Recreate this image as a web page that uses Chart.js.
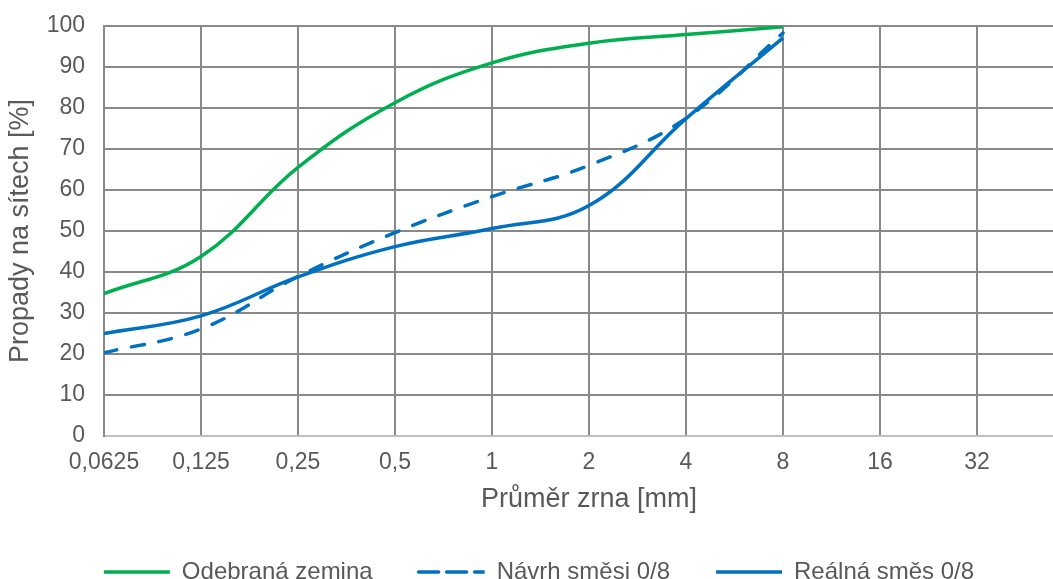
<!DOCTYPE html>
<html>
<head>
<meta charset="utf-8">
<script src="https://cdn.jsdelivr.net/npm/chart.js@4.4.1/dist/chart.umd.min.js"></script>
<style>
  html, body { margin: 0; padding: 0; background: #fff; overflow: hidden; }
  #wrap { width: 1090px; height: 579px; }
</style>
</head>
<body>
<div id="wrap"><canvas id="grainChart"></canvas></div>
<script>
// sieve sizes in mm (log2 scale) and passing percentages
const sieves = [0.0625, 0.125, 0.25, 0.5, 1, 2, 4, 8];
const tickSizes = [0.0625, 0.125, 0.25, 0.5, 1, 2, 4, 8, 16, 32, 64];
const odebrana = [34.7, 43.8, 65.5, 81.3, 91, 95.8, 97.9, 99.8];
const navrh = [20.3, 26.1, 38.9, 49.6, 58.4, 66, 77.5, 98.3];
const realna = [25, 29.3, 38.8, 46.2, 50.6, 56.2, 77.4, 97.1];

const toPoints = (vals) => vals.map((v, i) => ({ x: Math.log2(sieves[i]), y: v }));
const fmt = (n) => String(n).replace(".", ",");
const family = "'Liberation Sans', Arial, sans-serif";
const tickFont = { family, size: 23 };
const titleFont = { family, size: 27 };
const legendFont = { family, size: 24 };
const textColor = "#595959";

new Chart(document.getElementById("grainChart"), {
  type: "line",
  data: {
    datasets: [
      { label: "Odebraná zemina", data: toPoints(odebrana), borderColor: "#00b050", borderWidth: 3.5 },
      { label: "Návrh směsi 0/8", data: toPoints(navrh), borderColor: "#0070c0", borderWidth: 3.5, borderDash: [13, 15], borderCapStyle: "round" },
      { label: "Reálná směs 0/8", data: toPoints(realna), borderColor: "#0070c0", borderWidth: 3.5 },
    ],
  },
  options: {
    responsive: true,
    maintainAspectRatio: false,
    animation: false,
    elements: { point: { radius: 0 }, line: { tension: 0.4, fill: false } },
    // legend sits partly in the bottom margin, hence the negative padding
    layout: { padding: { top: 26, right: 16, bottom: -15, left: 4 } },
    plugins: {
      tooltip: { enabled: false },
      legend: {
        position: "bottom",
        labels: {
          color: textColor,
          font: legendFont,
          boxWidth: 66,
          boxHeight: 0,
          padding: 46,
          generateLabels(chart) {
            return chart.data.datasets.map((ds, i) => ({
              text: ds.label,
              fillStyle: ds.borderColor,
              strokeStyle: ds.borderColor,
              lineWidth: 3.5,
              lineDash: ds.borderDash || [],
              lineCap: ds.borderCapStyle || "butt",
              fontColor: textColor,
              datasetIndex: i,
            }));
          },
        },
      },
    },
    scales: {
      x: {
        type: "linear",
        min: -4,
        max: 6,
        afterBuildTicks(axis) {
          axis.ticks = tickSizes.map((s) => ({ value: Math.log2(s) }));
        },
        ticks: {
          color: textColor,
          font: tickFont,
          padding: 13,
          maxRotation: 0,
          autoSkip: false,
          callback: (v) => (v >= 6 ? "" : fmt(Math.pow(2, v))),
        },
        grid: { color: "#898989", lineWidth: 2, drawTicks: false },
        border: { color: "#c0c0c0", width: 2 },
        title: { display: true, text: "Průměr zrna [mm]", color: textColor, font: titleFont, padding: { top: -6, bottom: -2 } },
      },
      y: {
        min: 0,
        max: 100,
        afterFit(axis) {
          axis.width = 100;
          axis.paddingTop = 0;
        },
        ticks: { stepSize: 10, color: textColor, font: tickFont, padding: 19 },
        grid: { color: "#898989", lineWidth: 2, drawTicks: false },
        border: { color: "#898989", width: 2 },
        title: { display: true, text: "Propady na sítech [%]", color: textColor, font: titleFont, padding: { top: 0, bottom: 0 } },
      },
    },
  },
});
</script>
</body>
</html>
